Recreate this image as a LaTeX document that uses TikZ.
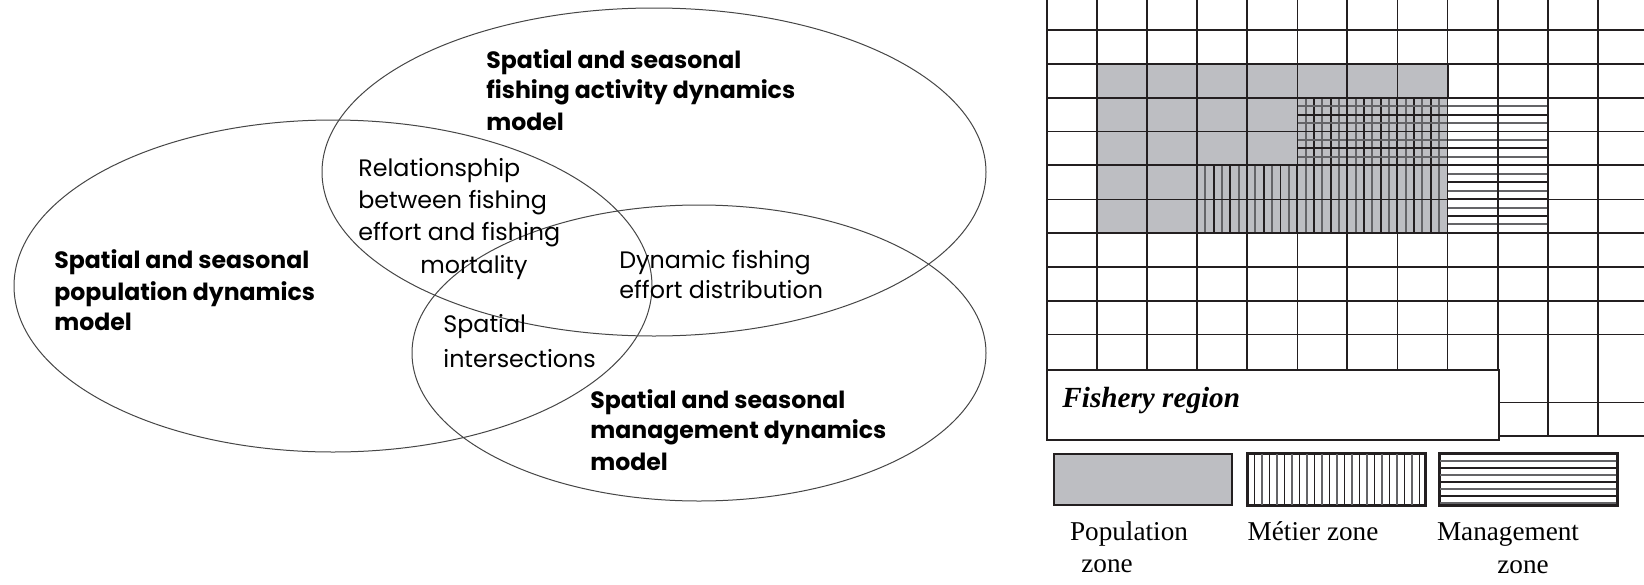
\documentclass[tikz,border=0pt]{standalone}
\usepackage{fontspec}
\setmainfont{Liberation Serif}
\newfontfamily\poppinsfam{Poppins}
\newcommand\gothic{\poppinsfam\fontsize{11.9}{14}\selectfont}
\newcommand\gothicbold{\poppinsfam\fontsize{11.8}{14}\selectfont\bfseries}
\newcommand\romanlbl{\rmfamily\fontsize{13.6}{16}\selectfont}
\definecolor{ink}{RGB}{35,31,32}
\definecolor{zonegray}{RGB}{189,190,194}
\definecolor{stripegray}{RGB}{100,100,103}
\definecolor{vennline}{RGB}{70,70,70}
\tikzset{
  venn/.style={draw=vennline, line width=0.5pt},
  vtext/.style={anchor=base west, inner sep=0pt, font=\gothic},
  btext/.style={anchor=base west, inner sep=0pt, font=\gothicbold},
  gridthin/.style={draw=ink, line width=0.7pt},
  gridthick/.style={draw=ink, line width=1pt},
  stripeblack/.style={draw=ink, line width=0.95pt},
  stripemid/.style={draw=stripegray, line width=1pt},
  keyblack/.style={draw=ink, line width=0.75pt},
  keymid/.style={draw=stripegray, line width=0.85pt},
  legbox/.style={draw=ink, line width=1pt},
  lbl/.style={anchor=base, inner sep=0pt, font=\romanlbl},
}
\begin{document}
\begin{tikzpicture}[x=0.5pt,y=-0.5pt]
\useasboundingbox (0,0) rectangle (1644,584);
\fill[white] (0,0) rectangle (1644,584);

% ---------- Venn diagram of the three sub-models ----------
\draw[venn] (654,172) ellipse [x radius=166pt, y radius=82pt];
\draw[venn] (333,286) ellipse [x radius=159.5pt, y radius=83pt];
\draw[venn] (699,353) ellipse [x radius=143.5pt, y radius=74pt];

\node[btext] (fa1) at (486,68) {Spatial and seasonal};
\node[btext] (fa2) at (486,98) {fishing activity dynamics};
\node[btext] (fa3) at (486,130) {model};

\node[vtext] (re1) at (358,176) {Relationsphip};
\node[vtext] (re2) at (358,208) {between fishing};
\node[vtext] (re3) at (358,240) {effort and fishing};
\node[vtext] (re4) at (420,273) {mortality};

\node[btext] (po1) at (54,268) {Spatial and seasonal};
\node[btext] (po2) at (54,300) {population dynamics};
\node[btext] (po3) at (54,330) {model};

\node[vtext] (dy1) at (619,268) {Dynamic fishing};
\node[vtext] (dy2) at (619,298) {effort distribution};

\node[vtext] (sp1) at (443,332) {Spatial};
\node[vtext] (sp2) at (443,367) {intersections};

\node[btext] (ma1) at (590,408) {Spatial and seasonal};
\node[btext] (ma2) at (590,438) {management dynamics};
\node[btext] (ma3) at (590,470) {model};

% ---------- gridded fishery region ----------
% population zone
\fill[zonegray] (1096.8,63.85) rectangle (1447.5,233.1);
% metier zone: vertical stripes
\begin{scope}
  \clip (1197,165.4) rectangle (1447.5,233.1) (1297.2,97.7) rectangle (1447.5,165.4);
  \foreach \i in {0,...,15}{
    \draw[stripeblack] ({1197+16.7*\i},90) -- ({1197+16.7*\i},240);
    \draw[stripemid] ({1205.35+16.7*\i},90) -- ({1205.35+16.7*\i},240);
  }
\end{scope}
% management zone: horizontal stripes
\begin{scope}
  \clip (1297.2,97.7) rectangle (1547.7,165.4) (1447.5,165.4) rectangle (1547.7,233.1);
  \foreach \i in {0,...,8}{
    \draw[stripeblack] (1290,{97.7+16.9*\i}) -- (1555,{97.7+16.9*\i});
    \draw[stripemid] (1290,{106.15+16.9*\i}) -- (1555,{106.15+16.9*\i});
  }
\end{scope}

% grid lines
\foreach \k/\s in {0/gridthick,1/gridthin,2/gridthin,3/gridthick,4/gridthin,5/gridthin,6/gridthick,7/gridthin,8/gridthin,9/gridthick}
  \draw[\s] ({1046.7+50.1*\k},0) -- ({1046.7+50.1*\k},368.5);
\foreach \k/\s in {10/gridthick,11/gridthick}
  \draw[\s] ({1046.7+50.1*\k},0) -- ({1046.7+50.1*\k},436.2);
\foreach \j/\s in {0/gridthick,1/gridthin,2/gridthick,3/gridthin,4/gridthick,5/gridthin,6/gridthick,7/gridthin,8/gridthick,9/gridthin}
  \draw[\s] (1046.7,{30+33.85*\j}) -- (1644,{30+33.85*\j});
\foreach \j/\s in {11/gridthin,12/gridthick}
  \draw[\s] (1497.6,{30+33.85*\j}) -- (1644,{30+33.85*\j});
% zone outlines
\draw[gridthick] (1096.8,63.85) -- (1447.5,63.85) -- (1447.5,97.7);
\draw[gridthick] (1197,165.4) -- (1197,233.1);
\draw[gridthick] (1297.2,97.7) -- (1547.7,97.7) -- (1547.7,233.1);

% fishery region label box
\node[draw=ink, line width=1.1pt, fill=white, minimum width=226pt, minimum height=35pt,
      inner sep=0pt, anchor=north west] (reg) at (1045.7,368.5) {};
\node[anchor=base west, inner sep=0pt, font={\rmfamily\fontsize{14.6}{16}\selectfont\bfseries\itshape}]
  (regtxt) at (1062,407) {Fishery region};

% ---------- legend ----------
\node[legbox, fill=zonegray, minimum width=89pt, minimum height=25.5pt, inner sep=0pt,
      anchor=north west] (kpop) at (1052.7,453.3) {};
\node[legbox, minimum width=88.5pt, minimum height=25.5pt, inner sep=0pt,
      anchor=north west] (kmet) at (1247,453.3) {};
\begin{scope}
  \clip (1247,453.3) rectangle (1424,504.3);
  \foreach \i in {0,...,12}{
    \draw[keyblack] ({1254.5+15*\i},450) -- ({1254.5+15*\i},508);
    \draw[keymid] ({1262+15*\i},450) -- ({1262+15*\i},508);
  }
\end{scope}
\node[legbox, minimum width=88.5pt, minimum height=25.5pt, inner sep=0pt,
      anchor=north west] (kman) at (1439,453.3) {};
\begin{scope}
  \clip (1439,453.3) rectangle (1616,504.3);
  \foreach \i in {0,...,3}{
    \draw[keymid] (1435,{461+14*\i}) -- (1620,{461+14*\i});
    \draw[keyblack] (1435,{468+14*\i}) -- (1620,{468+14*\i});
  }
\end{scope}
\draw[legbox] (kmet.north west) rectangle (kmet.south east);
\draw[legbox] (kman.north west) rectangle (kman.south east);

\node[lbl] (lpop1) at (1129,540) {Population};
\node[lbl] (lpop2) at (1107,572) {zone};
\node[lbl] (lmet) at (1313,540) {M\'etier zone};
\node[lbl] (lman1) at (1508,540) {Management};
\node[lbl] (lman2) at (1523,573) {zone};
\end{tikzpicture}
\end{document}
